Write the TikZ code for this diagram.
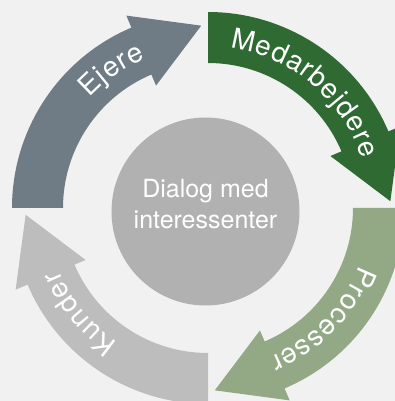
\documentclass[tikz,border=0pt]{standalone}
\usepackage{fontspec}
\usepackage{xcolor}
\usepackage{tikz}
\usetikzlibrary{decorations.text}

\newfontfamily\heros{TeX Gyre Heros}
\newcommand{\arcfont}{\heros\fontsize{28}{32}\selectfont}
\newcommand{\hubfont}{\heros\fontsize{25}{31.5}\selectfont}

\definecolor{baggrund}{HTML}{F1F1F1}
\definecolor{ejere}{HTML}{6F7C85}
\definecolor{medarb}{HTML}{2E6A32}
\definecolor{proces}{HTML}{93A986}
\definecolor{kunder}{HTML}{BDBDBD}
\definecolor{cirkel}{HTML}{B1B1B1}

\begin{document}
\begin{tikzpicture}[x=1pt, y=1pt,
    hub/.style={circle, fill=cirkel, minimum size=188pt, inner sep=0pt},
    hubtext/.style={text=white, align=center, font=\hubfont}]
    % Baggrund
    \useasboundingbox (-208,-193) rectangle (187,208);
    \fill[baggrund] (-208,-193) rectangle (187,208);
    \clip (-208,-193) rectangle (187,208);

    % Pile
    \foreach \a/\farve/\tekst/\c in {180/ejere/Ejere/125, 90/medarb/Medarbejdere/50,
                                     0/proces/Processer/-44, 270/kunder/Kunder/219.5} {
        \pgfmathsetmacro{\b}{\a-67}
        \fill[\farve] (\a:196pt) arc[start angle=\a, end angle=\b, radius=196pt]
            -- (\b:209pt) -- ([shift={(\b-90:65pt)}]\b:170.5pt) -- (\b:133pt)
            -- (\b:145pt) arc[start angle=\b, end angle=\a, radius=145pt] -- cycle;
        \arcfont
        \path[decorate, decoration={text along path, text align=center,
                text color=white, text/.expanded={|\noexpand\arcfont\noexpand\kern0.8pt|\tekst}}]
            (\c+70:161.5pt) arc[start angle=\c+70, end angle=\c-70, radius=161.5pt];
    }

    % Cirkel
    \node[hub] (hub) at (-2.5,-3.5) {};
    \node[hubtext] (dialog) at ([yshift=7.5pt]hub.center) {Dialog med\\interessenter};
\end{tikzpicture}
\end{document}
